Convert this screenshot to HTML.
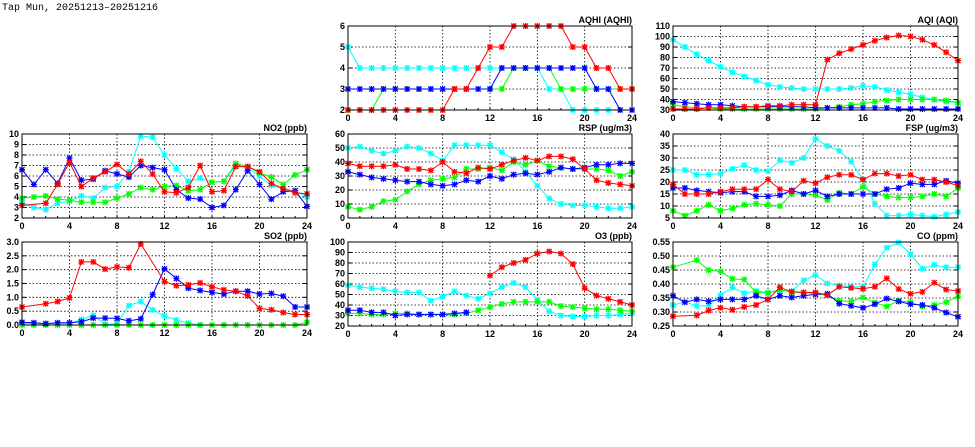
<!DOCTYPE html><html><head><meta charset="utf-8"><style>body{margin:0;background:#fff}svg{display:block}text{font-family:"Liberation Sans",sans-serif;font-size:9px;font-weight:bold;fill:#000}</style></head><body>
<svg id="s" width="975" height="447" xmlns="http://www.w3.org/2000/svg"><text x="2" y="10" style="font-family:'Liberation Mono',monospace;font-size:10px;font-weight:normal">Tap Mun, 20251213–20251216</text></svg>
<script>
const N=null;
const P=[
{t:"AQHI (AQHI)",x0:348,x1:632,y0:26,y1:110,mn:2,mx:6,st:1,dp:0,s:{c:[5,4,4,4,4,4,4,4,4,4,4,4,4,4,4,4,4,3,3,2,2,2,2,N,N],g:[2,2,2,3,3,3,3,3,3,3,3,3,3,3,4,4,4,4,3,3,3,3,3,3,3],b:[3,3,3,3,3,3,3,3,3,3,3,3,3,4,4,4,4,4,4,4,4,3,3,2,2],r:[2,2,2,2,2,2,2,2,2,3,3,4,5,5,6,6,6,6,6,5,5,4,4,3,3]}},
{t:"AQI (AQI)",x0:673,x1:958,y0:26,y1:110,mn:30,mx:110,st:10,dp:0,s:{c:[97,90,83,77,71,66,62,58,54,52,51,50,50,50,50,51,53,52,49,47,45,42,40,38,37],g:[35,33,32,32,31,31,31,31,31,31,31,31,31,32,33,35,36,38,39,40,40,40,40,39,37],b:[38,37,36,35,35,34,33,33,33,33,33,33,32,32,32,32,32,32,32,31,31,31,31,31,31],r:[31,31,31,32,32,32,33,33,34,34,35,35,35,78,84,88,92,96,99,101,100,97,92,85,77]}},
{t:"NO2 (ppb)",x0:22,x1:307,y0:134,y1:218,mn:2,mx:10,st:1,dp:0,s:{c:[3.5,3.0,2.8,3.4,3.6,4.1,3.9,4.9,5.0,6.4,9.8,9.7,8.0,6.7,5.5,5.8,5.4,5.5,7,6.8,6.0,5.1,4.8,4.6,4.0],g:[3.9,4.0,4.1,3.8,3.7,3.5,3.5,3.5,3.9,4.3,4.9,4.7,5.0,5.1,4.6,4.7,5.4,5.5,7.2,6.9,6.3,5.9,5.2,6.1,6.6],b:[6.6,5.2,6.6,5.3,7.7,5.6,5.7,6.5,6.2,5.9,7.0,6.8,6.6,4.7,3.9,3.8,3.0,3.2,4.7,6.5,5.2,3.8,4.5,4.6,3.1],r:[3.2,N,3.4,5.2,7.3,5.0,5.8,6.4,7.1,6.2,7.4,6.2,4.5,4.4,4.9,7.0,4.5,4.6,6.9,6.9,6.4,5.3,4.8,4.4,4.3]}},
{t:"RSP (ug/m3)",x0:348,x1:632,y0:134,y1:218,mn:0,mx:60,st:10,dp:0,s:{c:[50,51,48,46,48,51,50,46,41,52,52,52,52,47,42,33,23,14,10,9,9,8,7,7,8],g:[8,6,8,12,13,19,24,27,28,29,35,35,36,34,40,38,41,37,36,35,35,35,34,30,33],b:[33,31,29,28,27,26,26,24,23,24,27,26,30,28,31,32,31,33,36,35,36,38,38,39,39],r:[39,37,37,37,38,35,35,34,40,33,32,36,35,38,41,43,41,44,44,42,35,27,25,24,23]}},
{t:"FSP (ug/m3)",x0:673,x1:958,y0:134,y1:218,mn:5,mx:40,st:5,dp:0,s:{c:[25,25,23,23,23.5,25.5,27,25,24.5,29,28,30,38,35,33,28.5,21,11,6,6,6.5,6,5.5,6.5,7.5],g:[8,6,8,10.5,8,9,10.5,11,10.5,10,15,15,14.5,12.5,15.5,15,18,15,14,13.5,13.5,14,15,14,17.5],b:[17.5,17.5,16.5,16,15.5,16,16,14,14,14.5,16.5,15,16.5,14,15,15,15,15,17,17.5,19.5,19,19,20.5,19.5],r:[19,15,15,15,16,17,17,17,21,17,16,20.5,19.5,22,23,23,21,23.5,23.5,22.5,23,21,21,20,18.5]}},
{t:"SO2 (ppb)",x0:22,x1:307,y0:242,y1:325,mn:0,mx:3,st:0.5,dp:1,s:{c:[0.05,0.05,0.05,0.05,0.05,0.2,0.35,0.02,0.05,0.7,0.85,0.55,0.33,0.18,0.07,0,N,N,N,N,N,N,N,N,N],g:[0,0,0,0,0,0,0,0,0,0,0,0,0,0,0,0,0,0,0,0,0,0,0,0,0.1],b:[0.1,0.08,0.05,0.08,0.08,0.12,0.25,0.25,0.24,0.15,0.22,1.1,2.03,1.68,1.33,1.25,1.18,1.12,1.22,1.22,1.12,1.14,1.04,0.65,0.65],r:[0.65,N,0.77,0.85,0.98,2.28,2.28,2.02,2.1,2.07,2.93,N,1.57,1.42,1.45,1.52,1.38,1.27,1.22,1.05,0.6,0.55,0.45,0.38,0.38]}},
{t:"O3 (ppb)",x0:348,x1:632,y0:242,y1:326,mn:20,mx:100,st:10,dp:0,s:{c:[59,57,56,55,53,52,52,44,48,53,49,46,51,57,61,57,45,34,30,29,29,30,30,31,32],g:[32,32,31,31,32,32,31,31,31,31,32,35,38,41,43,43,43,43,39,38,37,36,36,35,34],b:[35,35,33,33,30,31,31,31,31,32,33,N,N,N,N,N,N,N,N,N,N,N,N,N,N],r:[N,N,N,N,N,N,N,N,N,N,N,N,68,76,80,83,89,91,89,79,56,49,46,43,40]}},
{t:"CO (ppm)",x0:673,x1:958,y0:242,y1:326,mn:0.25,mx:0.55,st:0.05,dp:2,s:{c:[0.325,0.335,0.322,0.322,0.36,0.388,0.367,0.375,0.37,0.375,0.375,0.413,0.432,0.402,0.395,0.39,0.39,0.47,0.53,0.548,0.507,0.455,0.468,0.46,0.46],g:[0.46,N,0.485,0.45,0.445,0.418,0.416,0.37,0.367,0.38,0.37,0.37,0.365,0.36,0.34,0.338,0.352,0.333,0.32,0.34,0.335,0.32,0.325,0.335,0.355],b:[0.358,0.335,0.345,0.338,0.345,0.345,0.345,0.358,0.345,0.358,0.352,0.358,0.363,0.365,0.33,0.322,0.315,0.328,0.348,0.338,0.328,0.325,0.315,0.298,0.283],r:[0.285,N,0.288,0.305,0.315,0.308,0.318,0.325,0.345,0.388,0.372,0.37,0.37,0.36,0.39,0.386,0.383,0.39,0.42,0.382,0.365,0.372,0.405,0.38,0.375]}}];
const col={c:"#00ffff",g:"#00ff00",b:"#0000ff",r:"#ff0000"};
let h="";
for(const p of P){
 const X=i=>p.x0+(p.x1-p.x0)*i/24, Y=v=>p.y1-(p.y1-p.y0)*(v-p.mn)/(p.mx-p.mn);
 const nt=Math.round((p.mx-p.mn)/p.st);
 for(let k=0;k<=nt;k++){const v=p.mn+k*p.st,y=Y(v);
  if(k>0&&k<nt)h+=`<line x1="${p.x0}" x2="${p.x1}" y1="${y}" y2="${y}" stroke="#000" stroke-width="0.8" stroke-dasharray="1.5,2"/>`;
  h+=`<line x1="${p.x0}" x2="${p.x0+4}" y1="${y}" y2="${y}" stroke="#000"/><line x1="${p.x1-4}" x2="${p.x1}" y1="${y}" y2="${y}" stroke="#000"/>`;
  h+=`<text x="${p.x0-3}" y="${y+3}" text-anchor="end">${v.toFixed(p.dp)}</text>`;}
 for(let i=0;i<=24;i+=4){const x=X(i);
  if(i>0&&i<24)h+=`<line x1="${x}" x2="${x}" y1="${p.y0}" y2="${p.y1}" stroke="#000" stroke-width="0.8" stroke-dasharray="1.5,2"/>`;
  h+=`<text x="${x}" y="${p.y1+11}" text-anchor="middle">${i}</text>`;}
 for(let i=0;i<=24;i++){const x=X(i);h+=`<line x1="${x}" x2="${x}" y1="${p.y1}" y2="${p.y1-2}" stroke="#000"/>`;}
 for(const k of ["c","g","b","r"]){const a=p.s[k];let d="",pen=false,m="";
  a.forEach((v,i)=>{if(v===N){return;}const x=X(i),y=Math.max(p.y0,Math.min(p.y1,Y(v)));d+=(d?"L":"M")+x.toFixed(1)+","+y.toFixed(1);
   m+=`M${x-2.5},${y-2.5}L${x+2.5},${y+2.5}M${x-2.5},${y+2.5}L${x+2.5},${y-2.5}M${x-3},${y}L${x+3},${y}M${x},${y-3}L${x},${y+3}`;});
  h+=`<path d="${d}" fill="none" stroke="${col[k]}" stroke-width="1"/><path d="${m}" stroke="${col[k]}" stroke-width="1.3" fill="none"/>`;}
 h+=`<rect x="${p.x0}" y="${p.y0}" width="${p.x1-p.x0}" height="${p.y1-p.y0}" fill="none" stroke="#000" stroke-width="1"/>`;
 h+=`<text x="${p.x1}" y="${p.y0-3}" text-anchor="end">${p.t}</text>`;
}
document.getElementById("s").insertAdjacentHTML("beforeend",h);
</script></body></html>
